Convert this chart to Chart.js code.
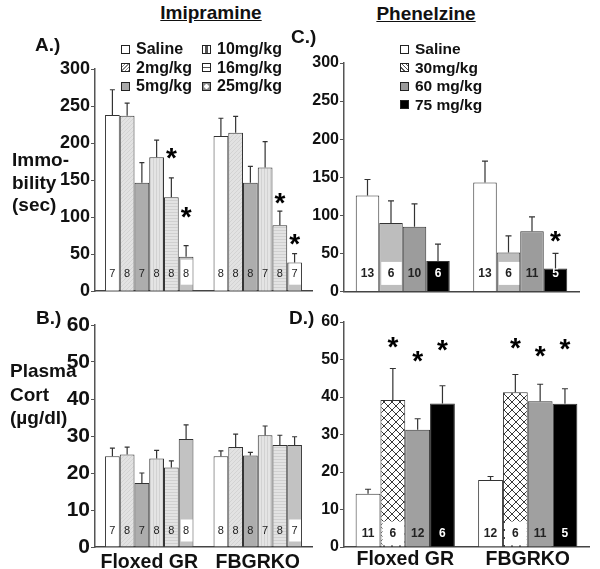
<!DOCTYPE html>
<html>
<head>
<meta charset="utf-8">
<script src="https://cdn.jsdelivr.net/npm/chart.js@4.4.0/dist/chart.umd.min.js"></script>
<style>
  body { margin: 0; background: #fff; }
  #wrap { position: relative; width: 600px; height: 569px; background: #fff; overflow: hidden;
          font-family: "Liberation Sans", Arial, sans-serif; color: #111; }
  #wrap canvas { position: absolute; }
  .txt { position: absolute; font-weight: bold; font-size: 19px; line-height: 19px; white-space: nowrap; }
  .leg { position: absolute; font-weight: bold; white-space: nowrap; }
  .leg div { display: flex; align-items: center; }
  .sq { display: inline-block; width: 7px; height: 7px; border: 1px solid #222; margin-right: 6px; box-sizing: content-box; }
</style>
</head>
<body>
<div id="wrap">
  <canvas id="cA" width="281" height="254" style="left:35px;top:49px"></canvas>
  <canvas id="cB" width="281" height="264" style="left:35px;top:305px"></canvas>
  <canvas id="cC" width="299" height="259" style="left:284px;top:43px"></canvas>
  <canvas id="cD" width="309" height="267" style="left:284px;top:302px"></canvas>

  <div class="txt" style="left:211px;top:3px;transform:translateX(-50%);text-decoration:underline">Imipramine</div>
  <div class="txt" style="left:426px;top:4px;transform:translateX(-50%);text-decoration:underline">Phenelzine</div>
  <div class="txt" style="left:35px;top:35px">A.)</div>
  <div class="txt" style="left:291px;top:27px">C.)</div>
  <div class="txt" style="left:36px;top:308px">B.)</div>
  <div class="txt" style="left:289px;top:308px">D.)</div>
  <div class="txt" style="left:12px;top:149px;line-height:22.5px">Immo-<br>bility<br>(sec)</div>
  <div class="txt" style="left:10px;top:359px;line-height:23.5px">Plasma<br>Cort<br>(µg/dl)</div>

  <div class="leg" id="legA1" style="left:121px;top:40px;font-size:16px;line-height:18.5px"></div>
  <div class="leg" id="legA2" style="left:202px;top:40px;font-size:16px;line-height:18.5px"></div>
  <div class="leg" id="legC" style="left:400px;top:40px;font-size:15.5px;line-height:18.5px"></div>
</div>

<script>
const groups = ['Floxed GR', 'FBGRKO'];
const imiDoses = ['Saline', '2mg/kg', '5mg/kg', '10mg/kg', '16mg/kg', '25mg/kg'];
const pheDoses = ['Saline', '30mg/kg', '60 mg/kg', '75 mg/kg'];

// A: imipramine immobility (sec), one pair [Floxed GR, FBGRKO] per dose
const imiImmob    = [[238, 209.5], [237, 214], [146.5, 146.5], [181, 167], [127, 89], [46.5, 38.7]];
const imiImmobSem = [[34, 24], [17, 22], [27, 22], [23, 35], [26, 19], [15, 12]];
const imiImmobStar = [[null, null], [null, null], [null, null], [null, null], [189, 129], [110, 73]];
const imiN = [[7, 8], [8, 8], [7, 8], [8, 7], [8, 8], [8, 7]];

// B: imipramine plasma cort (ug/dl)
const imiCort    = [[24.5, 24.5], [25, 27], [17.3, 24.7], [23.9, 30.2], [21.5, 27.6], [29.2, 27.6]];
const imiCortSem = [[2.2, 1.5], [2.0, 3.5], [2.7, 0.9], [2.2, 2.5], [1.8, 2.6], [3.8, 2.2]];

// C: phenelzine immobility (sec)
const pheImmob    = [[126, 143], [90, 51], [85, 79], [40, 30]];
const pheImmobSem = [[21, 28], [29, 22], [30, 19], [22, 20]];
const pheImmobStar = [[null, null], [null, null], [null, null], [null, 76]];
const pheImmobN = [[13, 13], [6, 6], [10, 11], [6, 5]];

// D: phenelzine plasma cort (ug/dl)
const pheCort    = [[14.2, 17.9], [39.2, 41.3], [31.3, 38.9], [38.3, 38.2]];
const pheCortSem = [[1.2, 0.9], [8.4, 4.7], [2.9, 4.5], [4.7, 4.0]];
const pheCortStar = [[null, null], [55.2, 54.9], [51.4, 52.8], [54.4, 54.6]];
const pheCortN = [[11, 12], [6, 6], [12, 11], [6, 5]];

const FONT = '"Liberation Sans", Arial, sans-serif';

function tile(w, h, draw) {
  const c = document.createElement('canvas');
  c.width = w; c.height = h;
  const g = c.getContext('2d');
  draw(g);
  return g.createPattern(c, 'repeat');
}
const diagGrey = tile(4, 4, g => {
  g.fillStyle = '#e2e2e2'; g.fillRect(0, 0, 4, 4);
  g.fillStyle = '#d3d3d3';
  for (let i = 0; i < 4; i++) g.fillRect(i, 3 - i, 1, 1);
});
const vertGrey = tile(3, 1, g => {
  g.fillStyle = '#e4e4e4'; g.fillRect(0, 0, 3, 1);
  g.fillStyle = '#d2d2d2'; g.fillRect(1, 0, 1, 1);
});
const horzGrey = tile(1, 3, g => {
  g.fillStyle = '#e3e3e3'; g.fillRect(0, 0, 1, 3);
  g.fillStyle = '#d0d0d0'; g.fillRect(0, 1, 1, 1);
});
const crossHatch = tile(8, 8, g => {
  g.fillStyle = '#fff'; g.fillRect(0, 0, 8, 8);
  g.strokeStyle = '#222'; g.lineWidth = 0.9;
  g.beginPath();
  g.moveTo(0, 0); g.lineTo(8, 8);
  g.moveTo(8, 0); g.lineTo(0, 8);
  g.stroke();
});

const imiFills = ['#ffffff', diagGrey, '#adadad', vertGrey, horzGrey, '#c2c2c2'];
const pheFillsC = ['#ffffff', '#bdbdbd', '#9c9c9c', '#000000'];
const pheFillsD = ['#ffffff', crossHatch, '#a0a0a0', '#000000'];

const marksPlugin = {
  id: 'marks',
  afterDatasetsDraw(chart) {
    const o = chart.options.plugins.marks;
    const ctx = chart.ctx;
    const ys = chart.scales.y;
    ctx.save();
    chart.data.datasets.forEach((ds, di) => {
      const meta = chart.getDatasetMeta(di);
      meta.data.forEach((bar, i) => {
        const x = bar.x, w = bar.width, base = bar.base;
        // white box behind the n label
        if (ds.nBox) {
          const top = Math.max(bar.y + 1, base - o.boxHi);
          ctx.fillStyle = '#fff';
          ctx.fillRect(x - w / 2 + 2, top, w - 3, (base - o.boxLo) - top);
        }
        // n label
        if (ds.n) {
          ctx.fillStyle = ds.nColor || '#222';
          ctx.font = o.nFont;
          ctx.textAlign = 'center';
          ctx.textBaseline = 'middle';
          ctx.fillText(String(ds.n[i]), x, base - o.nOff);
        }
        // error bar (upper half only)
        const top = ys.getPixelForValue(ds.data[i] + ds.sem[i]);
        ctx.strokeStyle = '#333';
        ctx.lineWidth = 1.2;
        ctx.beginPath();
        ctx.moveTo(x, bar.y);
        ctx.lineTo(x, top);
        ctx.moveTo(x - o.cap, top);
        ctx.lineTo(x + o.cap, top);
        ctx.stroke();
        // significance star
        if (ds.star && ds.star[i] != null) {
          ctx.fillStyle = '#000';
          ctx.font = 'bold 28px ' + FONT;
          ctx.textAlign = 'center';
          ctx.textBaseline = 'alphabetic';
          ctx.fillText('*', x, ys.getPixelForValue(ds.star[i]) + 16);
        }
      });
    });
    ctx.restore();
  }
};

function makePanel(id, p) {
  const datasets = p.doses.map((d, k) => ({
    label: d,
    data: p.values[k],
    sem: p.sems[k],
    star: p.stars ? p.stars[k] : null,
    n: p.ns[k],
    nBox: k === p.boxIndex,
    nColor: p.fills[k] === '#000000' ? '#fff' : '#222',
    backgroundColor: p.fills[k],
    borderColor: '#333',
    borderWidth: 1,
    barPercentage: 1,
    categoryPercentage: p.catPct
  }));
  return new Chart(document.getElementById(id), {
    type: 'bar',
    data: { labels: groups, datasets },
    options: {
      responsive: false,
      animation: false,
      layout: { padding: { top: 20, right: 4, left: 0, bottom: 0 } },
      plugins: {
        legend: { display: false },
        tooltip: { enabled: false },
        marks: p.marks
      },
      scales: {
        x: {
          grid: { display: false, drawTicks: false },
          border: { display: true, color: '#444', width: 1.5 },
          ticks: {
            display: p.xLabels,
            color: '#111',
            padding: p.xPad,
            font: { family: FONT, size: 19.5, weight: 'bold' }
          },
          afterFit: s => { s.height = p.xLabels ? 22 : 4; }
        },
        y: {
          min: 0, max: p.max,
          grid: { display: true, drawOnChartArea: false, drawTicks: true, tickLength: 4, color: '#555' },
          border: { display: true, color: '#555', width: 1.5 },
          ticks: {
            stepSize: p.step,
            color: '#111',
            padding: 1,
            font: { family: FONT, size: p.yFont, weight: 'bold' }
          },
          afterFit: s => { s.width = 60; }
        }
      }
    },
    plugins: [marksPlugin]
  });
}

makePanel('cA', {
  doses: imiDoses, values: imiImmob, sems: imiImmobSem, stars: imiImmobStar, ns: imiN,
  fills: imiFills, boxIndex: 5, catPct: 0.815, max: 300, step: 50, yFont: 18,
  xLabels: false, xPad: 0,
  marks: { boxLo: 6, boxHi: 31, nOff: 17, cap: 2.5, nFont: '11px ' + FONT }
});
makePanel('cB', {
  doses: imiDoses, values: imiCort, sems: imiCortSem, stars: null, ns: imiN,
  fills: imiFills, boxIndex: 5, catPct: 0.815, max: 60, step: 10, yFont: 21,
  xLabels: true, xPad: 4,
  marks: { boxLo: 5, boxHi: 27, nOff: 16, cap: 2.5, nFont: '11px ' + FONT }
});
makePanel('cC', {
  doses: pheDoses, values: pheImmob, sems: pheImmobSem, stars: pheImmobStar, ns: pheImmobN,
  fills: pheFillsC, boxIndex: 1, catPct: 0.8, max: 300, step: 50, yFont: 16,
  xLabels: false, xPad: 0,
  marks: { boxLo: 6, boxHi: 29, nOff: 17, cap: 3, nFont: 'bold 12px ' + FONT }
});
makePanel('cD', {
  doses: pheDoses, values: pheCort, sems: pheCortSem, stars: pheCortStar, ns: pheCortN,
  fills: pheFillsD, boxIndex: 1, catPct: 0.81, max: 60, step: 10, yFont: 16,
  xLabels: true, xPad: 1,
  marks: { boxLo: 1, boxHi: 25, nOff: 13, cap: 3, nFont: 'bold 12px ' + FONT }
});

// html legends built from the dose lists
const imiSwatch = [
  'background:#fff',
  'background:repeating-linear-gradient(135deg,#fff 0 1.5px,#888 1.5px 2.5px)',
  'background:#a8a8a8',
  'background:linear-gradient(90deg,#fff 0 2px,#555 2px 5px,#fff 5px)',
  'background:linear-gradient(180deg,#fff 0 3px,#555 3px 4px,#fff 4px)',
  'background:radial-gradient(circle,#fff 0 2px,#888 2.5px)'
];
const pheSwatch = [
  'background:#fff',
  'background:repeating-linear-gradient(45deg,#fff 0 2px,#555 2px 3px)',
  'background:#9a9a9a',
  'background:#000'
];
function fillLegend(el, names, swatches) {
  el.innerHTML = names.map((n, k) =>
    `<div><span class="sq" style="${swatches[k]}"></span>${n}</div>`).join('');
}
fillLegend(document.getElementById('legA1'), imiDoses.slice(0, 3), imiSwatch.slice(0, 3));
fillLegend(document.getElementById('legA2'), imiDoses.slice(3), imiSwatch.slice(3));
fillLegend(document.getElementById('legC'), pheDoses, pheSwatch);
</script>
</body>
</html>
